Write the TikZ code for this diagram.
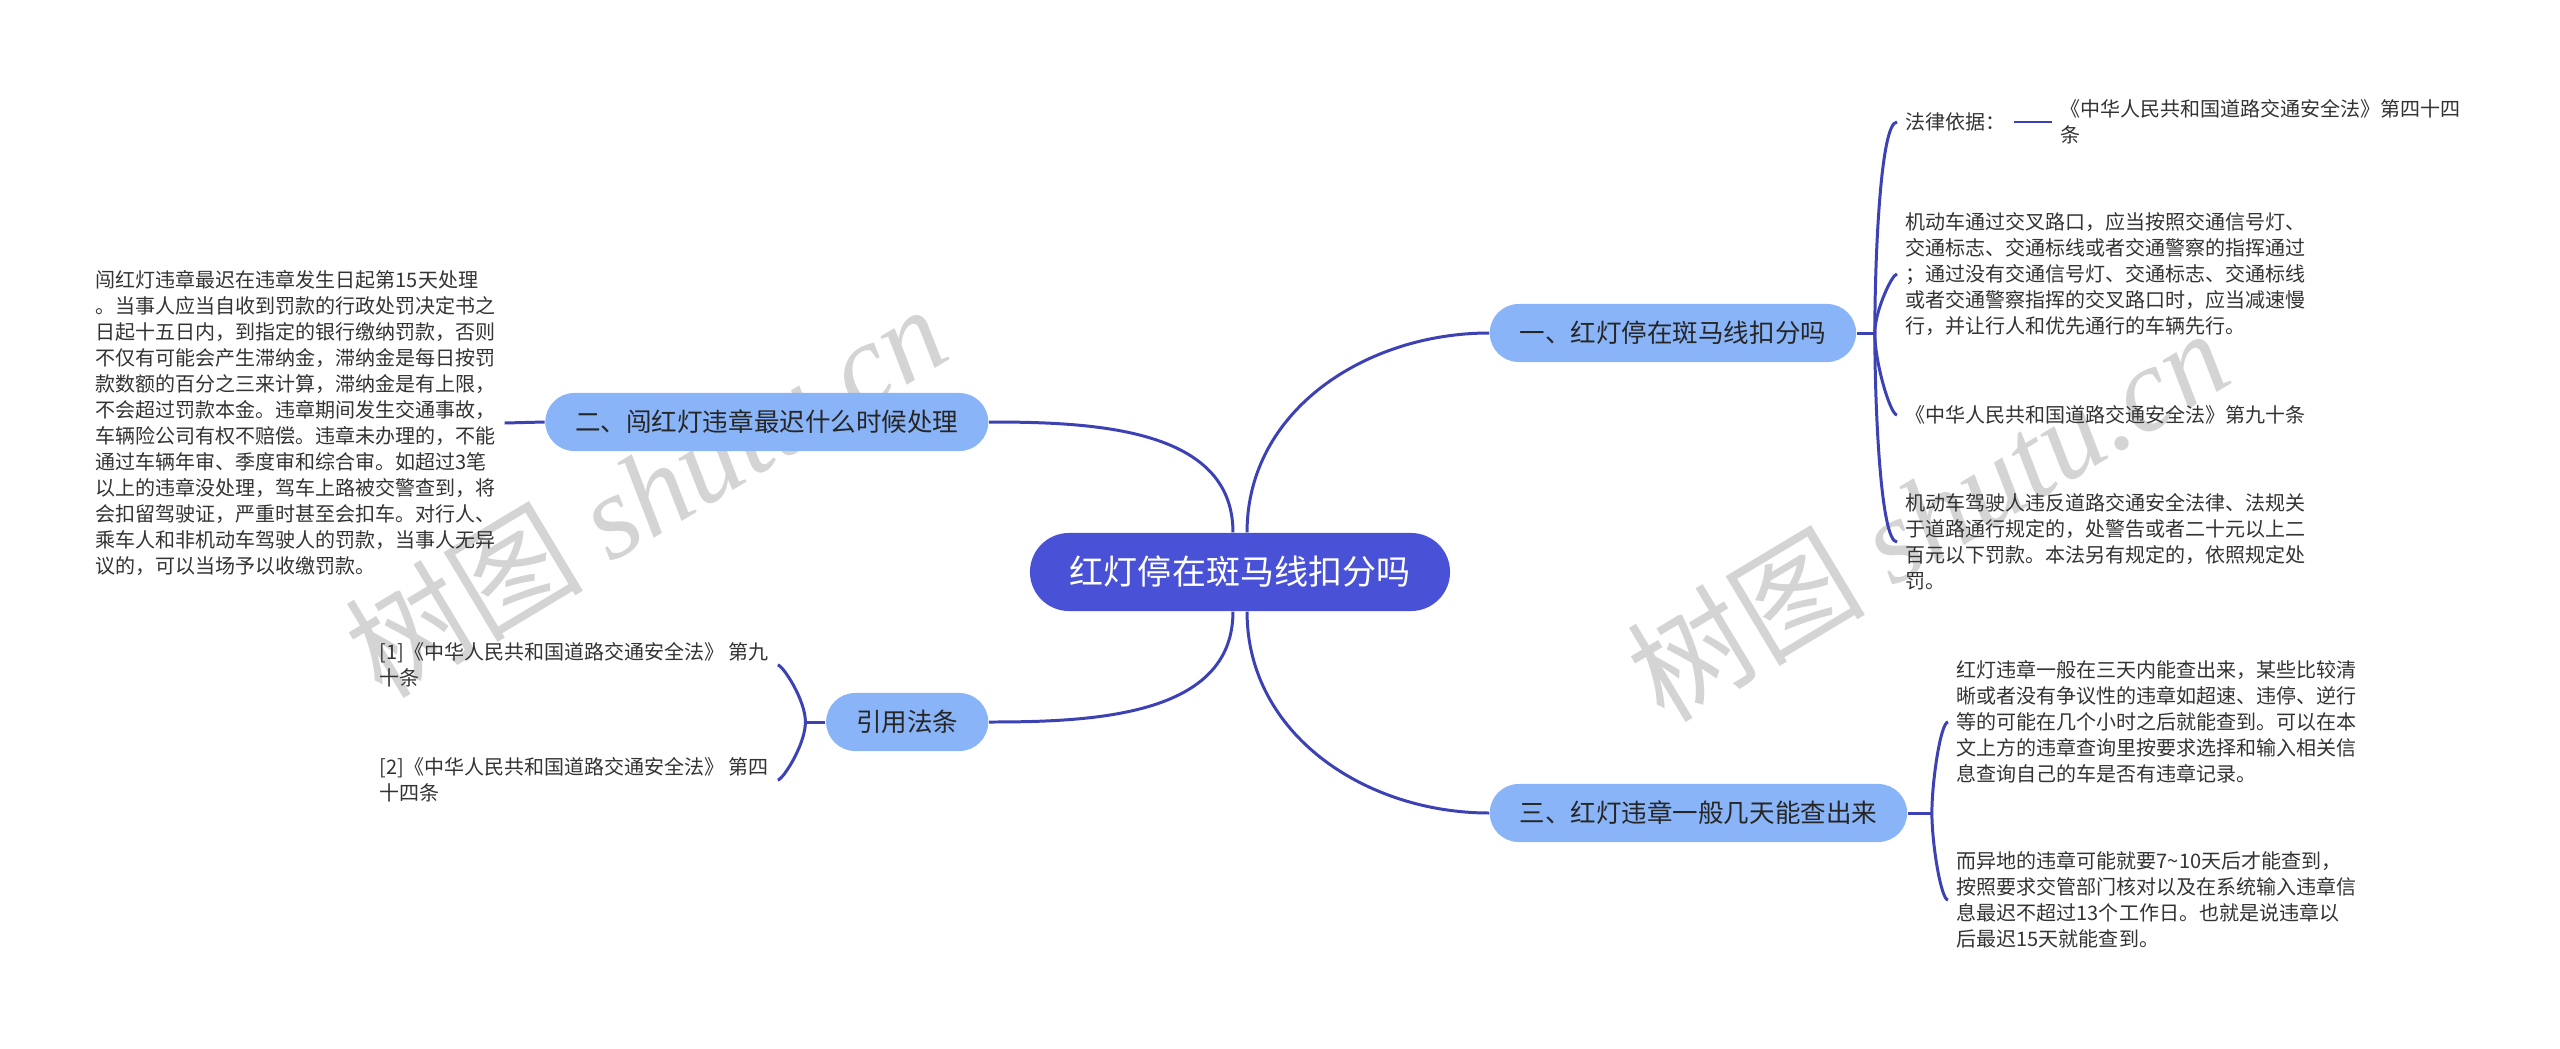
\documentclass[tikz,border=0pt]{standalone}
\usepackage{fontspec}
\setmainfont{Noto Sans CJK SC}
\newfontfamily\wmserif{Liberation Serif}
\definecolor{conn}{HTML}{3C41B4}
\definecolor{rootfill}{HTML}{4952D6}
\definecolor{brfill}{HTML}{8AB4F8}
\definecolor{leaftext}{HTML}{333333}
\definecolor{wm}{HTML}{D4D4D4}
\begin{document}
\begin{tikzpicture}[x=0.01cm,y=-0.01cm,
  conline/.style={draw=conn, line width=0.85pt},
  rootnode/.style={fill=rootfill, text=white, rounded corners=0.39cm, minimum height=0.78cm, inner xsep=0.4cm, inner ysep=0pt, font=\fontsize{9.67pt}{11pt}\selectfont},
  brnode/.style={fill=brfill, text=black!85, rounded corners=0.29cm, minimum height=0.58cm, inner xsep=0.3cm, inner ysep=0pt, font=\fontsize{7.26pt}{9pt}\selectfont},
  leaf/.style={text=leaftext, align=left, inner xsep=0.08cm, inner ysep=0.02cm, font=\fontsize{5.69pt}{7.4pt}\selectfont},
  wmark/.style={text=wm, rotate=31, font=\fontsize{34pt}{36pt}\selectfont},
  bracket/.style={conline, out looseness=0.9, in looseness=0.2}
]
\fill[white] (0,0) rectangle (2560,1048);
\useasboundingbox (0,0) rectangle (2560,1048);

% watermarks
\node[wmark] (w1) at (645,490) {树图 {\wmserif\itshape shutu.cn}};
\node[wmark] (w2) at (1927,514) {树图 {\wmserif\itshape shutu.cn}};

% root and branches
\node[rootnode] (root) at (1240,572) {红灯停在斑马线扣分吗};
\node[brnode, anchor=west] (b1) at (1489,333) {一、红灯停在斑马线扣分吗};
\node[brnode, anchor=east] (b2) at (989,422) {二、闯红灯违章最迟什么时候处理};
\node[brnode, anchor=west] (b3) at (1489,813) {三、红灯违章一般几天能查出来};
\node[brnode, anchor=east] (b4) at (989,722) {引用法条};

% leaves of branch 1
\node[leaf, anchor=west] (l1a) at (1897,122) {法律依据：};
\node[leaf, anchor=west] (l1b) at (2052,122) {《中华人民共和国道路交通安全法》第四十四\\条};
\node[leaf, anchor=west] (l1c) at (1897,274) {机动车通过交叉路口，应当按照交通信号灯、\\交通标志、交通标线或者交通警察的指挥通过\\；通过没有交通信号灯、交通标志、交通标线\\或者交通警察指挥的交叉路口时，应当减速慢\\行，并让行人和优先通行的车辆先行。};
\node[leaf, anchor=west] (l1d) at (1897,415) {《中华人民共和国道路交通安全法》第九十条};
\node[leaf, anchor=west] (l1e) at (1897,542) {机动车驾驶人违反道路交通安全法律、法规关\\于道路通行规定的，处警告或者二十元以上二\\百元以下罚款。本法另有规定的，依照规定处\\罚。};

% leaf of branch 2
\node[leaf, anchor=west] (l2a) at (87,423) {闯红灯违章最迟在违章发生日起第15天处理\\。当事人应当自收到罚款的行政处罚决定书之\\日起十五日内，到指定的银行缴纳罚款，否则\\不仅有可能会产生滞纳金，滞纳金是每日按罚\\款数额的百分之三来计算，滞纳金是有上限，\\不会超过罚款本金。违章期间发生交通事故，\\车辆险公司有权不赔偿。违章未办理的，不能\\通过车辆年审、季度审和综合审。如超过3笔\\以上的违章没处理，驾车上路被交警查到，将\\会扣留驾驶证，严重时甚至会扣车。对行人、\\乘车人和非机动车驾驶人的罚款，当事人无异\\议的，可以当场予以收缴罚款。};

% leaves of branch 3
\node[leaf, anchor=west] (l3a) at (1948,722) {红灯违章一般在三天内能查出来，某些比较清\\晰或者没有争议性的违章如超速、违停、逆行\\等的可能在几个小时之后就能查到。可以在本\\文上方的违章查询里按要求选择和输入相关信\\息查询自己的车是否有违章记录。};
\node[leaf, anchor=west] (l3b) at (1948,900) {而异地的违章可能就要7\textasciitilde10天后才能查到，\\按照要求交管部门核对以及在系统输入违章信\\息最迟不超过13个工作日。也就是说违章以\\后最迟15天就能查到。};

% leaves of branch 4
\node[leaf, anchor=west] (l4a) at (371,665) {[1]《中华人民共和国道路交通安全法》 第九\\十条};
\node[leaf, anchor=west] (l4b) at (371,780) {[2]《中华人民共和国道路交通安全法》 第四\\十四条};

% spine points
\coordinate (s1) at ([xshift=0.18cm]b1.east);
\coordinate (s3) at ([xshift=0.24cm]b3.east);
\coordinate (s4) at ([xshift=-0.2cm]b4.west);

% main connectors
\draw[conline] ([xshift=2pt]root.north) to[out=90,in=180] (b1.west);
\draw[conline] ([xshift=-2pt]root.north) to[out=90,in=0] (b2.east);
\draw[conline] ([xshift=2pt]root.south) to[out=-90,in=180] (b3.west);
\draw[conline] ([xshift=-2pt]root.south) to[out=-90,in=0] (b4.east);

% branch 1 connectors
\draw[conline] (b1.east) -- (s1);
\draw[bracket] (s1) to[out=90,in=180] (l1a.west);
\draw[bracket] (s1) to[out=90,in=180] (l1c.west);
\draw[bracket] (s1) to[out=-90,in=180] (l1d.west);
\draw[bracket] (s1) to[out=-90,in=180] (l1e.west);
\draw[conline] (l1a.east) -- (l1b.west);

% branch 2 connector
\draw[conline] (b2.west) -- (l2a.east);

% branch 3 connectors
\draw[conline] (b3.east) -- (s3);
\draw[bracket] (s3) to[out=90,in=180] (l3a.west);
\draw[bracket] (s3) to[out=-90,in=180] (l3b.west);

% branch 4 connectors
\draw[conline] (b4.west) -- (s4);
\draw[bracket] (s4) to[out=90,in=0] (l4a.east);
\draw[bracket] (s4) to[out=-90,in=0] (l4b.east);
\end{tikzpicture}
\end{document}
